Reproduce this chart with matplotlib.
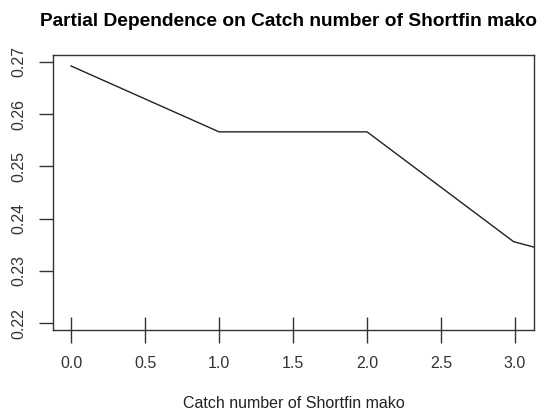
import matplotlib
matplotlib.use("Agg")
import matplotlib.pyplot as plt

# partial dependence values
catch = [0.0, 1.0, 2.0, 2.99, 3.2]
pd_val = [0.2692, 0.2566, 0.2566, 0.2356, 0.2340]

xticks = [0.0, 0.5, 1.0, 1.5, 2.0, 2.5, 3.0]
yticks = [0.22, 0.23, 0.24, 0.25, 0.26, 0.27]

plt.rcParams['font.family'] = ['Liberation Sans', 'DejaVu Sans']

fig = plt.figure(figsize=(5.55, 4.12), dpi=100)
ax = fig.add_axes([53/555, 1 - 330/412, 481/555, 275/412])

ax.plot(catch, pd_val, color='#222222', lw=1.0)
ax.set_xlim(-0.122, 3.128)
ax.set_ylim(0.2187, 0.2713)

ax.set_xticks(xticks)
ax.set_xticklabels(['%.1f' % v for v in xticks])
ax.set_yticks(yticks)
ax.set_yticklabels(['%.2f' % v for v in yticks], rotation=90, va='center')

ax.tick_params(axis='x', direction='inout', length=19, width=1, labelsize=11.5,
               pad=9, colors='#333333')
ax.tick_params(axis='y', direction='out', length=10, width=1, labelsize=11.5,
               pad=9, colors='#333333')
for s in ax.spines.values():
    s.set_color('#333333')
    s.set_linewidth(1.0)

ax.set_xlabel('Catch number of Shortfin mako', fontsize=11.5, color='#222222', labelpad=18)
fig.text(0.52, 1 - 26/412, 'Partial Dependence on Catch number of Shortfin mako',
         ha='center', va='baseline', fontsize=13.8, fontweight='bold')

fig.savefig('out.png', dpi=100)
